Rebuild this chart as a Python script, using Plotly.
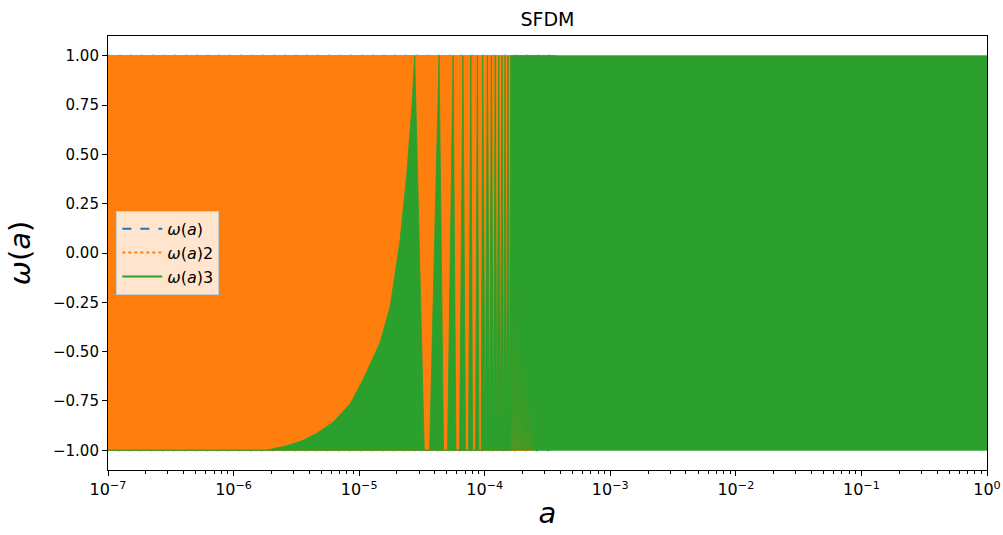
import plotly.graph_objects as go

# ---------------- data ----------------
# green series w(a)3: upper envelope of the (dense) oscillation band
green_x = [1e-7, 1.79e-6, 2.50e-6, 3.40e-6, 4.61e-6, 6.26e-6, 8.50e-6, 1.084e-5,
           1.47e-5, 1.77e-5, 2.12e-5, 2.40e-5, 2.63e-5, 2.77e-5,
           3.30e-5, 3.64e-5, 4.33e-5, 4.70e-5, 5.06e-5, 5.60e-5, 5.90e-5, 6.30e-5,
           6.71e-5, 7.03e-5, 7.43e-5, 7.76e-5, 8.00e-5, 8.45e-5, 8.75e-5, 8.99e-5,
           9.38e-5, 9.64e-5, 1.009e-4, 1.051e-4, 1.092e-4, 1.131e-4, 1.173e-4,
           1.212e-4, 1.253e-4, 1.293e-4, 1.334e-4, 1.373e-4, 1.414e-4, 1.453e-4,
           1.494e-4, 1.533e-4, 1.573e-4, 1.611e-4, 1.0]
green_hi = [-1.0, -1.0, -0.981, -0.956, -0.914, -0.855, -0.763, -0.637,
            -0.452, -0.268, 0.068, 0.404, 0.740, 1.0,
            -1.0, -1.0, 1.0, -1.0, -1.0, 1.0, -1.0, -1.0,
            1.0, -1.0, -1.0, 1.0, -1.0, -1.0, 1.0, -1.0,
            -1.0, 1.0, -1.0, 1.0, -1.0, 1.0, -1.0,
            1.0, -1.0, 1.0, -1.0, 1.0, -1.0, 1.0,
            -1.0, 1.0, -1.0, 1.0, 1.0]
# narrow gaps at the bottom of the green band (orange showing through)
green_gap_x = [1.656e-4, 1.718e-4, 1.782e-4, 1.848e-4, 1.917e-4, 1.989e-4,
               2.063e-4, 2.140e-4, 2.220e-4, 2.303e-4, 2.389e-4]
green_gap_top = [-0.25, -0.30, -0.35, -0.45, -0.50, -0.55, -0.60, -0.70, -0.75, -0.80, -0.85]

# orange series w(a)2: dense band
orange_x = [1e-7, 2.40e-4, 3.64e-4]
orange_hi = [1.0, 1.0, 1.0]
orange_lo = [-1.0, -1.0, 1.0]

# blue series w(a): dense band (almost fully hidden)
blue_x = [1e-7, 3.60e-4]
blue_hi = [1.0, 1.0]
blue_lo = [-1.0, -1.0]

y_ticks = [-1.0, -0.75, -0.5, -0.25, 0.0, 0.25, 0.5, 0.75, 1.0]
x_ticks = [1e-7, 1e-6, 1e-5, 1e-4, 1e-3, 1e-2, 1e-1, 1.0]
x_tick_text = ["10<sup>−7</sup>", "10<sup>−6</sup>", "10<sup>−5</sup>", "10<sup>−4</sup>",
               "10<sup>−3</sup>", "10<sup>−2</sup>", "10<sup>−1</sup>", "10<sup>0</sup>"]

BLUE = "#1f77b4"
ORANGE = "#ff7f0e"
GREEN = "#2ca02c"
FONT = "DejaVu Sans"

GAP_HALF = 1.00829  # half-width of a gap (multiplicative, log axis)


def band(xs, hi, lo_x, lo):
    px = list(xs) + list(lo_x)[::-1]
    py = list(hi) + list(lo)[::-1]
    return px + [px[0]], py + [py[0]]


fig = go.Figure()

bx, by = band(blue_x, blue_hi, blue_x, blue_lo)
fig.add_trace(go.Scatter(x=bx, y=by, mode="lines", fill="toself", fillcolor=BLUE,
                         line=dict(color=BLUE, width=2.0, dash="2px,9px"),
                         showlegend=False, hoverinfo="skip"))

ox, oy = band(orange_x, orange_hi, orange_x, orange_lo)
fig.add_trace(go.Scatter(x=ox, y=oy, mode="lines", fill="toself", fillcolor=ORANGE,
                         line=dict(color=ORANGE, width=1.5),
                         showlegend=False, hoverinfo="skip"))

lo_x = [1e-7]
lo_y = [-1.0]
for c, t in zip(green_gap_x, green_gap_top):
    lo_x += [c / GAP_HALF, c, c * GAP_HALF]
    lo_y += [-1.0, t, -1.0]
lo_x.append(1.0)
lo_y.append(-1.0)
gx, gy = band(green_x, green_hi, lo_x, lo_y)
fig.add_trace(go.Scatter(x=gx, y=gy, mode="lines", fill="toself", fillcolor=GREEN,
                         line=dict(color=GREEN, width=0.8),
                         showlegend=False, hoverinfo="skip"))

# legend entries
for name, col, dash in [("<i>ω</i>(<i>a</i>)", BLUE, "dash"),
                        ("<i>ω</i>(<i>a</i>)2", ORANGE, "dot"),
                        ("<i>ω</i>(<i>a</i>)3", GREEN, "solid")]:
    fig.add_trace(go.Scatter(x=[None], y=[None], mode="lines", name=name,
                             legendgroup=name,
                             line=dict(color=col, width=2, dash=dash)))

fig.update_layout(
    width=1003, height=535, autosize=False,
    margin=dict(l=108, r=16, t=36, b=65),
    paper_bgcolor="white", plot_bgcolor="white",
    font=dict(family=FONT, size=15, color="black"),
    title=dict(text="SFDM", x=0.5, xref="paper", xanchor="center",
               y=1 - 19 / 535, yref="container", yanchor="middle",
               font=dict(size=19, family=FONT)),
    legend=dict(x=0.0095, y=0.597, xanchor="left", yanchor="top",
                bgcolor="rgba(255,255,255,0.8)", bordercolor="#cccccc", borderwidth=1,
                font=dict(size=16, family=FONT), tracegroupgap=0, itemwidth=40),
    showlegend=True,
)
fig.update_xaxes(type="log", range=[-7, 0], tickvals=x_ticks, ticktext=x_tick_text,
                 tickfont=dict(size=16, family=FONT),
                 showgrid=False, zeroline=False, automargin=False,
                 showline=True, mirror=True, linecolor="black", linewidth=1.1,
                 ticks="outside", ticklen=5, tickwidth=1.1, tickcolor="black",
                 minor=dict(ticks="outside", ticklen=3, tickwidth=0.9, tickcolor="black",
                            dtick="D1", showgrid=False),
                 title=dict(text="<i>a</i>", font=dict(size=29, family=FONT), standoff=4))
fig.update_yaxes(range=[-1.1, 1.1], tickvals=y_ticks, tickformat=".2f",
                 showgrid=False, zeroline=False, automargin=False,
                 showline=True, mirror=True, linecolor="black", linewidth=1.1,
                 ticks="outside", ticklen=5, tickwidth=1.1, tickcolor="black",
                 title=dict(text="<i>ω</i>(<i>a</i>)", font=dict(size=29, family=FONT), standoff=13))

fig.write_html("out.html")
